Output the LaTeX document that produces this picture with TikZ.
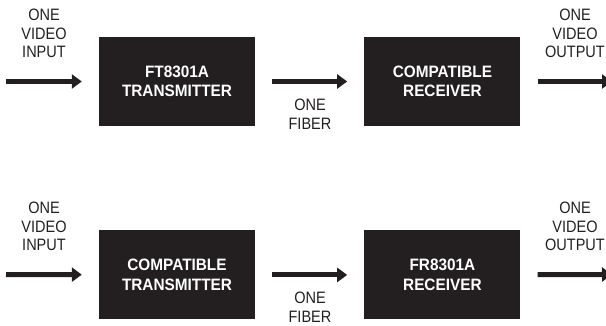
\documentclass[tikz,border=0pt]{standalone}
\usepackage{fontspec}
\setmainfont{Liberation Sans}
\newfontfamily\labelfont[FakeStretch=0.88]{Liberation Sans}
\newfontfamily\blockfont[FakeStretch=0.93]{Liberation Sans}
\definecolor{blockfill}{HTML}{231F20}
\usetikzlibrary{arrows.meta}
\usetikzlibrary{positioning}

\begin{document}
\begin{tikzpicture}[
		x=1pt, y=-1pt,
		node distance=109pt,
		block/.style={fill=blockfill, text=white, minimum width=156pt, minimum height=89pt, inner sep=0pt, align=center, font=\blockfont\bfseries\fontsize{16.5}{19.5}\selectfont},
		note/.style={inner sep=0pt, align=center, text=blockfill, font=\labelfont\fontsize{16.5}{18.7}\selectfont},
		flow/.style={draw=blockfill, line width=5pt, -{Triangle[width=14pt, length=10pt]}},
	]
		\useasboundingbox (0,0) rectangle (606,326);
		\clip (0,0) rectangle (606,326);

		\begin{scope}
			\node (tx1) [block] at (177,81.5) {FT8301A\\TRANSMITTER};
			\node (rx1) [block, right=of tx1] {COMPATIBLE\\RECEIVER};
			\coordinate (in1) at (6,81.5);
			\coordinate (out1) at (612,81.5);

			\node (in1 label) [note] at (44,33.5) {ONE\\VIDEO\\INPUT};
			\node (fiber1 label) [note] at (310,114.5) {ONE\\FIBER};
			\node (out1 label) [note] at (575,33.5) {ONE\\VIDEO\\OUTPUT};

			\draw[flow, shorten >=17pt] (in1) -- (tx1);
			\draw[flow, shorten <=17pt, shorten >=17pt] (tx1) -- (rx1);
			\draw[flow, shorten <=17pt] (rx1) -- (out1);
		\end{scope}

		\begin{scope}
			\node (tx2) [block, below=104pt of tx1] {COMPATIBLE\\TRANSMITTER};
			\node (rx2) [block, right=of tx2] {FR8301A\\RECEIVER};
			\coordinate (in2) at (6,274.5);
			\coordinate (out2) at (612,274.5);

			\node (in2 label) [note] at (44,226.5) {ONE\\VIDEO\\INPUT};
			\node (fiber2 label) [note] at (310,307) {ONE\\FIBER};
			\node (out2 label) [note] at (575,226.5) {ONE\\VIDEO\\OUTPUT};

			\draw[flow, shorten >=17pt] (in2) -- (tx2);
			\draw[flow, shorten <=17pt, shorten >=17pt] (tx2) -- (rx2);
			\draw[flow, shorten <=17pt] (rx2) -- (out2);
		\end{scope}
	\end{tikzpicture}
\end{document}
